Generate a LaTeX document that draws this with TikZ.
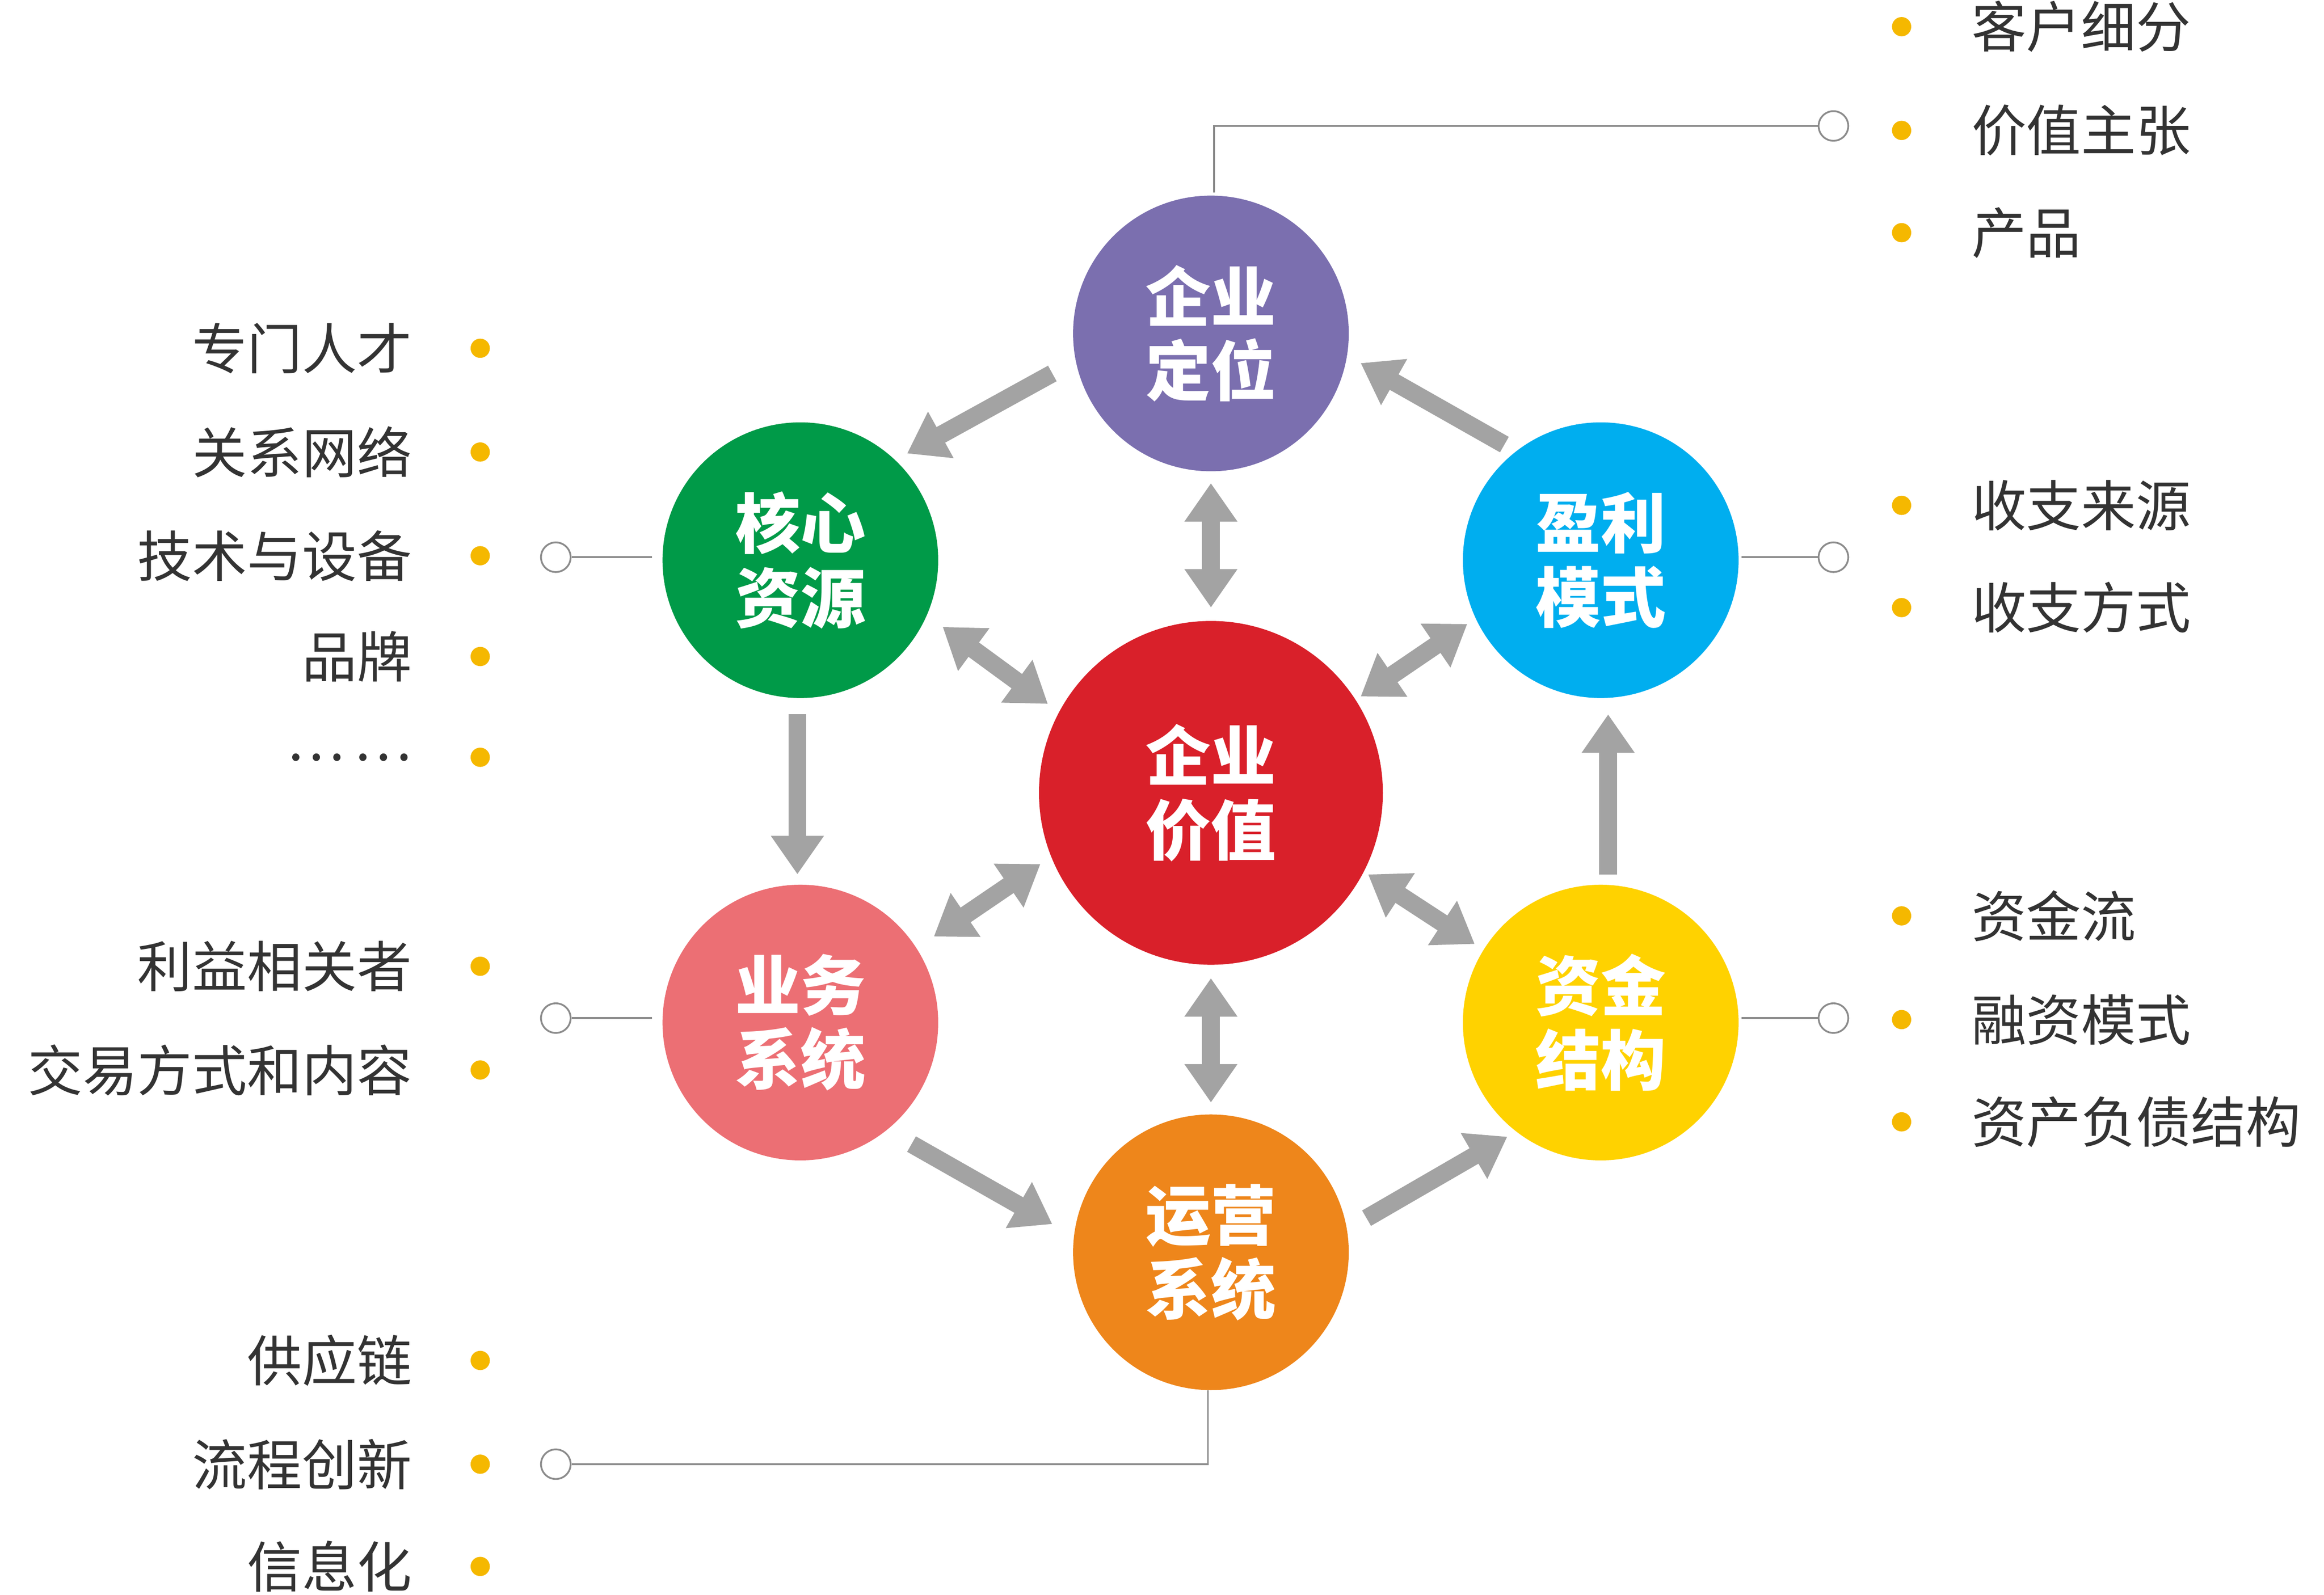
\documentclass[tikz,border=0pt]{standalone}
\usepackage{fontspec}
\setmainfont{Noto Sans CJK SC}
\newfontfamily\cjk{Noto Sans CJK SC}
\usetikzlibrary{arrows.meta}
\definecolor{cpurple}{HTML}{7B6FAF}
\definecolor{cgreen}{HTML}{009A48}
\definecolor{ccyan}{HTML}{00AEEF}
\definecolor{cred}{HTML}{D9202A}
\definecolor{cpink}{HTML}{EC6F74}
\definecolor{cyellow}{HTML}{FFD200}
\definecolor{corange}{HTML}{EE861B}
\definecolor{cdot}{HTML}{F5B800}
\definecolor{carrow}{HTML}{A3A3A3}
\definecolor{cline}{HTML}{8C8C8C}
\definecolor{ctext}{HTML}{333333}
\begin{document}
\begin{tikzpicture}[x=1pt,y=-1pt,
  ball/.style={circle,minimum size=186pt,inner sep=0pt,text=white,font=\fontsize{44}{50}\selectfont\bfseries,align=center},
  garrow/.style={draw=carrow,line width=12pt,-{Triangle[length=26pt,width=34pt]}},
  garrowd/.style={draw=carrow,line width=12pt,{Triangle[length=26pt,width=34pt]}-{Triangle[length=26pt,width=34pt]}},
  conn/.style={draw=cline,line width=1.2pt},
  ring/.style={circle,draw=cline,line width=1.2pt,fill=white,minimum size=20pt,inner sep=0pt},
  bul/.style={circle,fill=cdot,minimum size=13pt,inner sep=0pt},
  ltxt/.style={anchor=east,text=ctext,font=\fontsize{37}{40}\selectfont,inner sep=0pt},
  rtxt/.style={anchor=west,text=ctext,font=\fontsize{37}{40}\selectfont,inner sep=0pt}]
\useasboundingbox (0,0) rectangle (1568,1076);
% arrows
\coordinate (a1s) at (710,252); \coordinate (a1e) at (612,306);
\coordinate (a2s) at (538,482); \coordinate (a2e) at (538,590);
\coordinate (a3s) at (615,772); \coordinate (a3e) at (710,826);
\coordinate (a4s) at (922,822); \coordinate (a4e) at (1017,767);
\coordinate (a5s) at (1085,590); \coordinate (a5e) at (1085,482);
\coordinate (a6s) at (1015,300); \coordinate (a6e) at (918,245);
\draw[garrow] (a1s) -- (a1e);
\draw[garrow] (a2s) -- (a2e);
\draw[garrow] (a3s) -- (a3e);
\draw[garrow] (a4s) -- (a4e);
\draw[garrow] (a5s) -- (a5e);
\draw[garrow] (a6s) -- (a6e);
\coordinate (d1s) at (817,326); \coordinate (d1e) at (817,410);
\coordinate (d2s) at (817,660); \coordinate (d2e) at (817,744);
\coordinate (d3s) at (636,423); \coordinate (d3e) at (707,475);
\coordinate (d4s) at (918,470); \coordinate (d4e) at (990,421);
\coordinate (d5s) at (630,632); \coordinate (d5e) at (702,583);
\coordinate (d6s) at (923,590); \coordinate (d6e) at (995,637);
\foreach \i in {1,...,6}{\draw[garrowd] (d\i s) -- (d\i e);}
% connectors
\node[ring] (r1) at (1237,85) {};
\node[ring] (r2) at (375,376) {};
\node[ring] (r3) at (1237,376) {};
\node[ring] (r4) at (375,687) {};
\node[ring] (r5) at (1237,687) {};
\node[ring] (r6) at (375,988) {};
\draw[conn] (819,130) |- (r1);
\draw[conn] (440,376) -- (r2);
\draw[conn] (1175,376) -- (r3);
\draw[conn] (440,687) -- (r4);
\draw[conn] (1175,687) -- (r5);
\draw[conn] (815,938) |- (r6);
% balls
\node[ball,fill=cpurple] (dw) at (817,225) {企业\\定位};
\node[ball,fill=cgreen] (zy) at (540,378) {核心\\资源};
\node[ball,fill=ccyan] (yl) at (1080,378) {盈利\\模式};
\node[ball,fill=cred,minimum size=232pt] (jz) at (817,535) {企业\\价值};
\node[ball,fill=cpink] (yw) at (540,690) {业务\\系统};
\node[ball,fill=cyellow] (zj) at (1080,690) {资金\\结构};
\node[ball,fill=corange] (yy) at (817,845) {运营\\系统};
% left lists
\foreach \y/\t [count=\k] in {235/专门人才,305/关系网络,375/技术与设备,443/品牌,511/…\,…,652/利益相关者,722/交易方式和内容,918/供应链,988/流程创新,1057/信息化/数据化}{
  \node[bul] (lb\k) at (324,\y) {};
  \node[ltxt] (lt\k) at (278,\y) {\t};
}
\foreach \y/\t [count=\k] in {18/客户细分,88/价值主张,157/产品/服务,341/收支来源,410/收支方式,618/资金流,688/融资模式,757/资产负债结构}{
  \node[bul] (rb\k) at (1283,\y) {};
  \node[rtxt] (rt\k) at (1330,\y) {\t};
}
\end{tikzpicture}
\end{document}
